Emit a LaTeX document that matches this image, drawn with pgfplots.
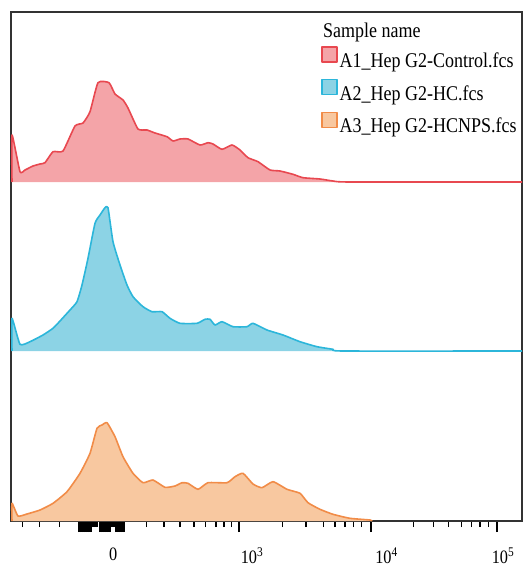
\documentclass[border=0pt]{standalone}
\usepackage{fontspec}
\setmainfont{Liberation Serif}
\newfontfamily\legfont[FakeStretch=0.86]{Liberation Serif}
\usepackage{pgfplots}
\pgfplotsset{compat=1.18}
\usepackage{pgfplotstable}

\definecolor{redfill}{RGB}{244,164,168}
\definecolor{redline}{RGB}{232,72,80}
\definecolor{bluefill}{RGB}{140,211,229}
\definecolor{blueline}{RGB}{44,182,218}
\definecolor{orangefill}{RGB}{248,200,160}
\definecolor{orangeline}{RGB}{241,140,72}

\pgfplotstableread{
x y
12 182
12 135
20 171.7
25 170
33 166
40 164
45 162.7
53 151.7
63 151
75 126
83 123
90 111.7
98 82.7
109 82.7
115 94
123 100
128 108
138 129
147 130
155 133
167 136.7
173 141
180 139
188 139
200 145
208 142.7
213 144
222 149.3
232 145
240 150
248 157.7
258 161.7
270 170
280 171
293 174.3
303 177.7
320 179
333 181
350 182
522 182
}\redtab

\pgfplotstableread{
x y
12 351
12 318.3
20 344.3
30 341.7
43 335
53 328.3
60 321
70 310
77 301.7
82 285
88 258.3
95 223.3
100 215
105 207.7
108 207.7
113 241.7
120 265
127 285
133 296.7
143 306.7
152 311.7
162 311.7
170 318.3
180 323.3
197 323.3
205 319.3
210 319.3
215 325
222 321.7
233 326.7
247 326.7
253 323.3
267 330
283 335
300 341.7
317 346.7
333 349.3
343 351
522 351
}\bluetab

\pgfplotstableread{
x y
12 521
12 503.3
18 516
27 514
40 510
53 503.3
67 491.7
80 473.3
90 453.3
97 428.3
102 425
107 422.7
115 436.7
123 456.7
133 473.3
143 482.7
153 480
165 487.3
175 486
182 482.7
188 483.3
198 489.3
208 482.7
227 482.7
235 476.7
243 473.3
253 484
262 487.7
273 481.7
287 489.3
300 493.3
308 502.7
320 509.3
333 514.3
350 518.3
370 520
372 521
}\orangetab

\begin{document}
\begin{tikzpicture}
\begin{axis}[
  scale only axis, width=511bp, height=509bp,
  xmin=11, xmax=522, ymin=12, ymax=521, y dir=reverse,
  axis line style={line width=1.5bp, black!80},
  ytick=\empty,
  xtick pos=bottom, tick align=outside,
  xtick={79,81,83,85,87,89,91,100,102,104,106,108,110,116,118,120,122,124,239.3,370.7,496.7},
  xticklabels={},
  minor xtick={22.7,39.3,59.3,93,95,97,112,114,146.7,164,180,194,205.7,216,224,231.7,282.7,306,323.3,335,345,353.3,361.7,413.3,433.3,448.3,461.7,471.7,480,488.3},
  major tick length=11bp, minor tick length=6bp,
  every tick/.style={black, line width=1.5bp},
  every major tick/.append style={line width=2.2bp},
  extra x ticks={113.3,252,386.5,503},
  extra x tick labels={0,10\textsuperscript{3},10\textsuperscript{4},10\textsuperscript{5}},
  extra x tick style={major tick length=0pt, tick style={draw=none},
    xticklabel style={font=\legfont\fontsize{19}{19}\selectfont, inner sep=0pt, text depth=0pt, anchor=north, yshift=-27bp}},
  clip=false,
  legend style={at={(axis cs:321,46)}, anchor=north west, draw=none, fill=none,
    inner sep=0pt, row sep=4.5bp, font=\legfont\fontsize{21}{21}\selectfont,
    nodes={inner sep=2bp, text height=15bp, text depth=5bp},
    /tikz/every even column/.append style={column sep=3bp}},
  legend cell align=left,
  legend image code/.code={\draw[#1] (0bp,0.5bp) rectangle (15bp,15.5bp);},
  every axis plot/.append style={line join=round},
]
\addplot[fill=redfill, draw=none, forget plot, smooth, tension=0.3] table {\redtab};
\addplot[redline, line width=1.6bp, forget plot, smooth, tension=0.3] table {\redtab};
\addplot[fill=bluefill, draw=none, forget plot, smooth, tension=0.3] table {\bluetab};
\addplot[blueline, line width=1.6bp, forget plot, smooth, tension=0.3] table {\bluetab};
\addplot[fill=orangefill, draw=none, forget plot, smooth, tension=0.3] table {\orangetab};
\addplot[orangeline, line width=1.6bp, forget plot, smooth, tension=0.3] table {\orangetab};

\addlegendimage{fill=redfill, draw=redline, line width=1.5bp}
\addlegendentry{A1\_Hep G2-Control.fcs}
\addlegendimage{fill=bluefill, draw=blueline, line width=1.5bp}
\addlegendentry{A2\_Hep G2-HC.fcs}
\addlegendimage{fill=orangefill, draw=orangeline, line width=1.5bp}
\addlegendentry{A3\_Hep G2-HCNPS.fcs}

\node[anchor=base west, inner sep=0pt, font=\legfont\fontsize{21}{21}\selectfont] at (axis cs:323,38) {Sample name};

\coordinate (bbTL) at (axis cs:0,0);
\coordinate (bbBR) at (axis cs:525,568);
\end{axis}
\pgfresetboundingbox
\path[use as bounding box] (bbTL) rectangle (bbBR);
\end{tikzpicture}
\end{document}
